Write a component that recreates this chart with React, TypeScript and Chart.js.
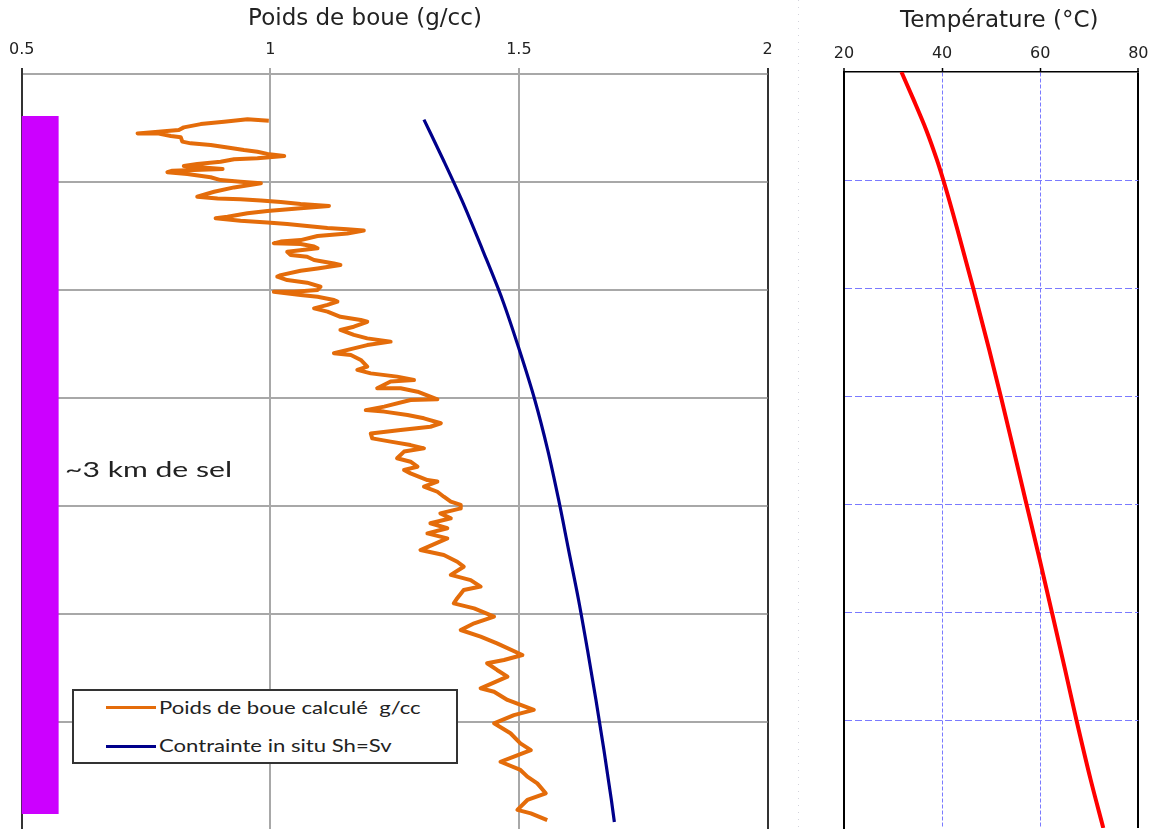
import React, { useEffect, useRef } from 'react';
import { Chart, registerables } from 'chart.js';

Chart.register(...registerables);

// ---------- data ----------
const densityTicks = [0.5, 1, 1.5, 2];
const temperatureTicks = [20, 40, 60, 80];
const depthTicks = [2000, 2500, 3000, 3500, 4000, 4500, 5000, 5500];

const leftTitle = 'Poids de boue (g/cc)';
const rightTitle = 'Température (°C)';
const legendLabels = ['Poids de boue calculé  g/cc', 'Contrainte in situ Sh=Sv'];
const saltLabel = '~3 km de sel';

const saltDepth = [2194, 5426];
const saltDensity = [0.534, 0.534];

const mudDepth = [
  2216, 2210, 2221, 2232, 2247, 2259, 2275, 2275, 2287, 2293,
  2313, 2321, 2329, 2340, 2352, 2360, 2370, 2380, 2390, 2395,
  2406, 2417, 2426, 2440, 2448, 2455, 2463, 2478, 2491, 2499,
  2506, 2525, 2545, 2568, 2576, 2580, 2586, 2593, 2602, 2611,
  2622, 2634, 2645, 2661, 2668, 2679, 2687, 2694, 2704, 2713,
  2719, 2725, 2738, 2750, 2769, 2776, 2784, 2787, 2799, 2807,
  2823, 2838, 2846, 2861, 2877, 2884, 2900, 2911, 2931, 2938,
  2954, 2966, 2985, 3000, 3008, 3008, 3023, 3031, 3046, 3054,
  3069, 3085, 3100, 3124, 3139, 3147, 3170, 3185, 3208, 3224,
  3239, 3255, 3270, 3293, 3301, 3324, 3355, 3370, 3386, 3401,
  3417, 3424, 3455, 3455, 3471, 3506, 3509, 3540, 3556, 3563,
  3579, 3594, 3617, 3633, 3648, 3664, 3687, 3702, 3718, 3733,
  3748, 3779, 3795, 3818, 3833, 3849, 3880, 3887, 3910, 3934,
  3957, 3980, 3995, 4011, 4034, 4057, 4080, 4103, 4127, 4150,
  4204, 4227, 4258, 4281, 4319, 4343, 4373, 4389, 4427, 4451,
  4474, 4512, 4543, 4574, 4605, 4636, 4690, 4713, 4728, 4759,
  4790, 4844, 4860, 4898, 4944, 4968, 5006, 5052, 5099, 5130,
  5160, 5184, 5222, 5253, 5284, 5330, 5361, 5407, 5423, 5454,
];
const mudWeight = [
  0.997, 0.954, 0.907, 0.86, 0.826, 0.816, 0.733, 0.773, 0.8, 0.82,
  0.823, 0.84, 0.88, 0.914, 0.947, 0.974, 0.994, 1.028, 0.974, 0.927,
  0.9, 0.853, 0.826, 0.904, 0.803, 0.793, 0.833, 0.88, 0.9, 0.94,
  0.981, 0.927, 0.887, 0.853, 0.894, 0.94, 0.981, 1.021, 1.061, 1.118,
  1.061, 0.994, 0.954, 0.914, 0.89, 0.94, 0.994, 1.034, 1.074, 1.115,
  1.155, 1.188, 1.155, 1.095, 1.061, 1.021, 1.007, 1.061, 1.088, 1.095,
  1.034, 1.041, 1.074, 1.088, 1.128, 1.141, 1.095, 1.061, 1.021, 1.014,
  1.034, 1.074, 1.101, 1.095, 1.048, 1.007, 1.061, 1.095, 1.128, 1.135,
  1.115, 1.088, 1.115, 1.141, 1.182, 1.195, 1.168, 1.141, 1.168, 1.195,
  1.242, 1.195, 1.168, 1.128, 1.162, 1.182, 1.195, 1.175, 1.202, 1.255,
  1.289, 1.242, 1.215, 1.262, 1.296, 1.336, 1.282, 1.229, 1.192, 1.229,
  1.276, 1.309, 1.343, 1.322, 1.262, 1.202, 1.205, 1.242, 1.282, 1.309,
  1.269, 1.255, 1.282, 1.296, 1.269, 1.282, 1.316, 1.336, 1.309, 1.336,
  1.349, 1.363, 1.383, 1.383, 1.342, 1.363, 1.322, 1.356, 1.316, 1.356,
  1.302, 1.349, 1.376, 1.389, 1.363, 1.403, 1.423, 1.389, 1.376, 1.369,
  1.41, 1.45, 1.41, 1.383, 1.423, 1.456, 1.507, 1.47, 1.436, 1.456,
  1.477, 1.423, 1.45, 1.477, 1.53, 1.49, 1.45, 1.483, 1.503, 1.524,
  1.49, 1.463, 1.503, 1.517, 1.537, 1.554, 1.517, 1.497, 1.524, 1.557,
];

const stressDepth = [2211, 2398, 2583, 2815, 3046, 3278, 3509, 3741, 3972, 4204, 4435, 4667, 4898, 5130, 5361, 5463];
const stressValue = [1.309, 1.348, 1.385, 1.427, 1.467, 1.501, 1.532, 1.558, 1.58, 1.6, 1.62, 1.638, 1.655, 1.671, 1.686, 1.692];

const tempDepth = [2000, 2128, 2267, 2406, 2544, 2730, 3007, 3285, 3516, 3748, 3979, 4257, 4502, 4767, 5000, 5276, 5500];
const tempValue = [31.71, 34.18, 36.74, 38.93, 40.82, 43.13, 46.42, 49.59, 52.12, 54.56, 56.97, 59.89, 62.39, 65.07, 67.38, 70.28, 72.86];

// ---------- helpers ----------
const pts = (xs: number[], ys: number[]) => xs.map((x, i) => ({ x, y: ys[i] }));

const captionPlugin = {
  id: 'caption',
  afterDraw(chart: any, _args: any, opts: any) {
    if (!opts || !opts.text) return;
    const { ctx } = chart;
    ctx.save();
    ctx.font = `${opts.size}px ${opts.family}`;
    ctx.fillStyle = opts.color;
    ctx.textAlign = 'center';
    ctx.textBaseline = 'alphabetic';
    ctx.fillText(opts.text, opts.x, opts.y);
    ctx.restore();
  },
};

const tickFont = { family: '"DejaVu Sans", sans-serif', size: 16 };
const fmt = (v: any) => String(v);

export default function App() {
  const leftRef = useRef<HTMLCanvasElement>(null);
  const rightRef = useRef<HTMLCanvasElement>(null);

  useEffect(() => {
    const left = new Chart(leftRef.current as HTMLCanvasElement, {
      type: 'line',
      data: {
        datasets: [
          {
            label: legendLabels[0],
            data: pts(mudWeight, mudDepth),
            borderColor: '#e46c0a',
            borderWidth: 4,
            borderJoinStyle: 'round',
            pointRadius: 0,
            tension: 0,
          },
          {
            label: legendLabels[1],
            data: pts(stressValue, stressDepth),
            indexAxis: 'y',
            cubicInterpolationMode: 'monotone',
            borderColor: '#00008b',
            borderWidth: 3.2,
            pointRadius: 0,
          },
          {
            label: saltLabel,
            data: pts(saltDensity, saltDepth),
            borderColor: '#cc00ff',
            borderWidth: 40,
            borderCapStyle: 'butt',
            pointRadius: 0,
          },
        ],
      },
      options: {
        animation: false,
        responsive: false,
        events: [],
        layout: { padding: { left: 21, right: 32.5, top: 0, bottom: 10 } },
        plugins: {
          legend: { display: false },
          tooltip: { enabled: false },
          caption: { text: leftTitle, x: 365, y: 25, size: 23, family: '"DejaVu Sans", sans-serif', color: '#222' },
        } as any,
        scales: {
          x: {
            type: 'linear',
            position: 'top',
            min: densityTicks[0],
            max: densityTicks[densityTicks.length - 1],
            afterBuildTicks: (s: any) => { s.ticks = densityTicks.map((value) => ({ value })); },
            afterFit: (s: any) => { s.height = 74; },
            ticks: { font: tickFont, color: '#222', padding: 9, maxRotation: 0, callback: fmt },
            grid: {
              color: (c: any) => (c.tick && (c.tick.value === 0.5 || c.tick.value === 2) ? '#333' : '#a8a8a8'),
              lineWidth: 2,
              tickLength: 6,
            },
            border: { display: false },
          },
          y: {
            type: 'linear',
            reverse: true,
            min: depthTicks[0],
            max: depthTicks[depthTicks.length - 1],
            afterBuildTicks: (s: any) => { s.ticks = depthTicks.map((value) => ({ value })); },
            afterFit: (s: any) => { s.width = 0; },
            ticks: { display: false },
            grid: { color: '#a8a8a8', lineWidth: 2, drawTicks: false },
            border: { display: true, color: '#333', width: 2 },
          },
        },
      } as any,
      plugins: [captionPlugin as any],
    });

    const isEdgeT = (c: any) => c.tick && (c.tick.value === 20 || c.tick.value === 80);
    const lastDepth = depthTicks[depthTicks.length - 1];
    const right = new Chart(rightRef.current as HTMLCanvasElement, {
      type: 'line',
      data: {
        datasets: [
          {
            label: rightTitle,
            data: pts(tempValue, tempDepth),
            indexAxis: 'y',
            cubicInterpolationMode: 'monotone',
            borderColor: '#ff0000',
            borderWidth: 4,
            pointRadius: 0,
          },
        ],
      },
      options: {
        animation: false,
        responsive: false,
        events: [],
        layout: { padding: { left: 44, right: 13.3, top: 0, bottom: 10 } },
        plugins: {
          legend: { display: false },
          tooltip: { enabled: false },
          caption: { text: rightTitle, x: 199.3, y: 26.7, size: 23, family: '"DejaVu Sans", sans-serif', color: '#222' },
        } as any,
        scales: {
          x: {
            type: 'linear',
            position: 'top',
            min: temperatureTicks[0],
            max: temperatureTicks[temperatureTicks.length - 1],
            afterBuildTicks: (s: any) => { s.ticks = temperatureTicks.map((value) => ({ value })); },
            afterFit: (s: any) => { s.height = 72; },
            ticks: { font: tickFont, color: '#222', padding: 4.5, maxRotation: 0, callback: fmt },
            grid: {
              color: (c: any) => (isEdgeT(c) ? '#000' : '#7a7aff'),
              lineWidth: (c: any) => (isEdgeT(c) ? 2 : 1),
              tickColor: '#000',
              tickWidth: 1.5,
              tickLength: 4,
              tickBorderDash: [],
            },
            border: { display: true, color: '#000', width: 1.5, dash: (c: any) => (c.tick && !isEdgeT(c) ? [4, 2] : []) },
          },
          y: {
            type: 'linear',
            reverse: true,
            min: depthTicks[0],
            max: lastDepth,
            afterBuildTicks: (s: any) => { s.ticks = depthTicks.map((value) => ({ value })); },
            afterFit: (s: any) => { s.width = 0; },
            ticks: { display: false },
            grid: {
              color: (c: any) =>
                c.tick && (c.tick.value === depthTicks[0] || c.tick.value === lastDepth) ? 'rgba(0,0,0,0)' : '#7a7aff',
              lineWidth: 1,
              drawTicks: false,
            },
            border: { display: true, color: '#000', width: 2, dash: (c: any) => (c.tick ? [7, 3] : []) },
          },
        },
      } as any,
      plugins: [captionPlugin as any],
    });

    return () => {
      left.destroy();
      right.destroy();
    };
  }, []);

  const legendText: React.CSSProperties = {
    position: 'absolute',
    left: 85.3,
    fontFamily: 'Lato, sans-serif',
    fontSize: 17,
    lineHeight: '17px',
    color: '#222',
    whiteSpace: 'pre',
    transform: 'scaleX(1.3)',
    transformOrigin: 'left center',
  };

  return (
    <div style={{ position: 'fixed', left: 0, top: 0, width: 1153, height: 829, overflow: 'hidden', background: '#fff' }}>
      <canvas ref={leftRef} width={800} height={840} style={{ position: 'absolute', left: 0, top: 0 }} />
      <canvas ref={rightRef} width={353} height={838} style={{ position: 'absolute', left: 800, top: 0 }} />
      <div
        style={{
          position: 'absolute',
          left: 798,
          top: 0,
          width: 1,
          height: 829,
          background: 'repeating-linear-gradient(to bottom, #d4d4dc 0px, #d4d4dc 1px, transparent 1px, transparent 7px)',
        }}
      />
      <div
        style={{
          position: 'absolute',
          left: 65,
          top: 458,
          fontFamily: 'Lato, sans-serif',
          fontSize: 22,
          lineHeight: '22px',
          color: '#222',
          whiteSpace: 'pre',
          transform: 'scaleX(1.37)',
          transformOrigin: 'left center',
        }}
      >
        {saltLabel}
      </div>
      <div
        style={{
          position: 'absolute',
          left: 72,
          top: 689,
          width: 386,
          height: 75,
          boxSizing: 'border-box',
          border: '2px solid #333',
          background: '#fff',
        }}
      >
        <div style={{ position: 'absolute', left: 32, top: 15, width: 50, height: 3, background: '#e46c0a' }} />
        <div style={{ position: 'absolute', left: 32, top: 53.5, width: 50, height: 3, background: '#00008b' }} />
        <div style={{ ...legendText, top: 8 }}>{legendLabels[0]}</div>
        <div style={{ ...legendText, top: 45.6 }}>{legendLabels[1]}</div>
      </div>
    </div>
  );
}
